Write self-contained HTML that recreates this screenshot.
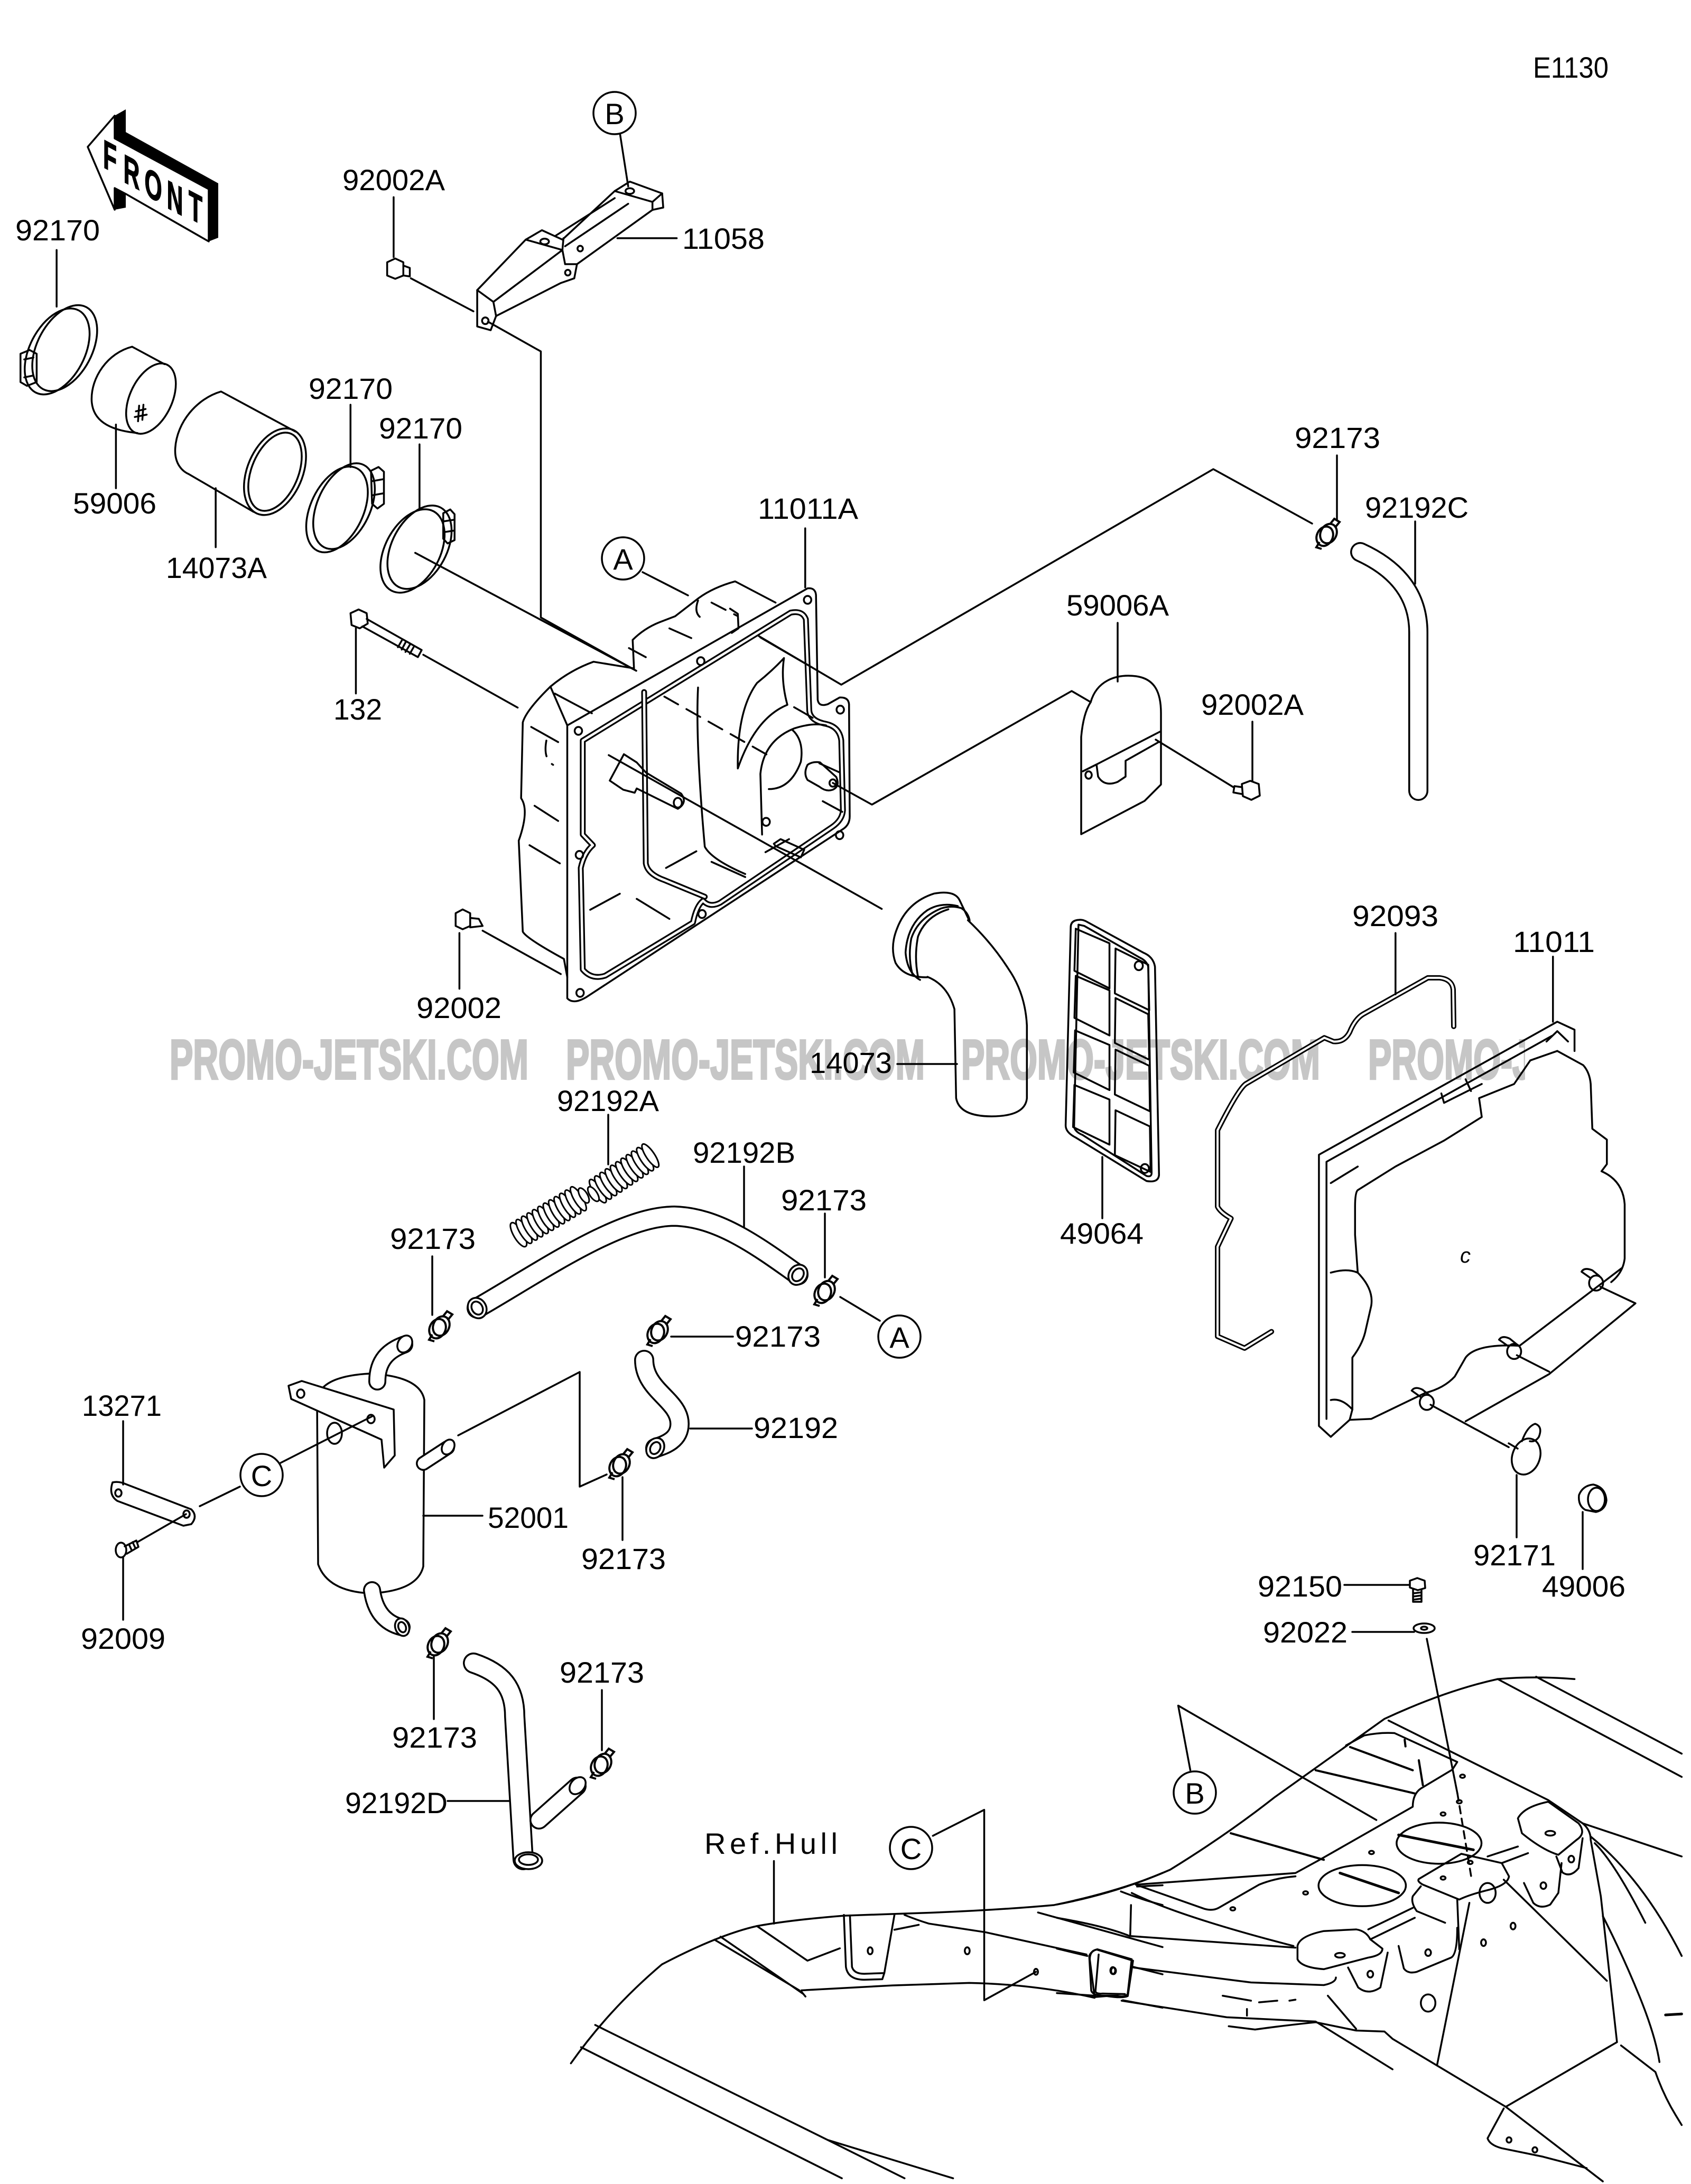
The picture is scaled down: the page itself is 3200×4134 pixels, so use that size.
<!DOCTYPE html>
<html><head><meta charset="utf-8">
<style>
html,body{margin:0;padding:0;background:#fff;}
svg{display:block;}
svg *{vector-effect:non-scaling-stroke;}
.L{fill:none;stroke:#000;stroke-width:3.5;stroke-linejoin:round;stroke-linecap:round;}
.T{font-family:"Liberation Sans",sans-serif;font-size:56px;fill:#000;}
</style></head><body>
<svg width="3200" height="4134" viewBox="0 0 3200 4134" xmlns="http://www.w3.org/2000/svg">
<defs>
<g id="clamp" fill="none" stroke="#000" stroke-width="4">
<ellipse cx="-4" cy="3" rx="15" ry="19" transform="rotate(25 -4 3)" fill="#fff"/>
<ellipse cx="3" cy="-2" rx="15" ry="19" transform="rotate(25 3 -2)"/>
<path d="M6,-20 L14,-30 L24,-24 L15,-13"/>
<path d="M-14,14 L-20,24 L-10,27"/>
</g>
<clipPath id="wc"><rect x="0" y="1900" width="2886" height="200"/></clipPath>
</defs>
<rect width="3200" height="4134" fill="#fff"/>

<!-- watermark -->
<g clip-path="url(#wc)" fill="#c6c6c6" stroke="#c6c6c6" stroke-width="4" font-family="Liberation Sans, sans-serif" font-weight="bold" font-size="106">
<text x="321" y="2042" textLength="679" lengthAdjust="spacingAndGlyphs">PROMO-JETSKI.COM</text>
<text x="1071" y="2042" textLength="679" lengthAdjust="spacingAndGlyphs">PROMO-JETSKI.COM</text>
<text x="1819" y="2042" textLength="679" lengthAdjust="spacingAndGlyphs">PROMO-JETSKI.COM</text>
<text x="2589" y="2042" textLength="679" lengthAdjust="spacingAndGlyphs">PROMO-JETSKI.COM</text>
</g>

<!-- FRONT arrow (orig coords) -->
<polygon points="217,219 238,207 238,250 413,347 413,450 395,457 395,358 217,262" fill="#000"/>
<polygon points="217,355 238,367 238,393 217,397" fill="#000"/>
<polygon points="166,278 217,219 217,262 395,358 395,457 238,367 217,356 217,397" fill="#fff" stroke="#000" stroke-width="3.5" stroke-linejoin="round"/>
<g font-family="Liberation Sans, sans-serif" font-weight="bold" font-size="76" text-anchor="middle" fill="#000" stroke="#000" stroke-width="1.5">
<text transform="translate(208,296) skewY(28) scale(0.56,1)" y="27">F</text>
<text transform="translate(249,325) skewY(28) scale(0.56,1)" y="27">R</text>
<text transform="translate(290,350) skewY(28) scale(0.56,1)" y="27">O</text>
<text transform="translate(331,374) skewY(28) scale(0.56,1)" y="27">N</text>
<text transform="translate(370,392) skewY(28) scale(0.56,1)" y="27">T</text>
</g>

<!-- ===== Z1 region ===== -->
<g transform="scale(1.0204,0.8929)" class="L">
<ellipse cx="120" cy="738" rx="52" ry="96" transform="rotate(22 120 738)"/>
<ellipse cx="106" cy="745" rx="52" ry="96" transform="rotate(22 106 745)"/>
<path d="M38,750 L55,742 L68,750 L68,810 L50,818 L38,810 Z M45,762 L62,758 M45,800 L62,796"/>
<path d="M245,735 C200,748 168,800 170,850 C172,890 200,912 255,918 M245,735 L305,772"/>
<ellipse cx="280" cy="845" rx="40" ry="78" transform="rotate(20 280 845)"/>
<path d="M252,872 L270,867 M250,884 L272,879 M258,860 L256,893 M266,858 L264,890"/>
<path d="M410,830 C365,845 328,895 325,950 C323,985 340,1000 350,1005 L470,1085 M410,830 L548,915"/>
<ellipse cx="510" cy="1000" rx="52" ry="95" transform="rotate(18 510 1000)"/>
<ellipse cx="510" cy="1000" rx="44" ry="86" transform="rotate(18 510 1000)"/>
<ellipse cx="625" cy="1080" rx="50" ry="95" transform="rotate(20 625 1080)"/>
<ellipse cx="638" cy="1073" rx="50" ry="95" transform="rotate(20 638 1073)"/>
<path d="M688,998 L702,990 L712,1000 L712,1068 L700,1078 L690,1068 Z M690,1020 L710,1016 M690,1050 L710,1046"/>
<ellipse cx="765" cy="1168" rx="52" ry="93" transform="rotate(22 765 1168)"/>
<ellipse cx="778" cy="1160" rx="52" ry="93" transform="rotate(22 778 1160)"/>
<path d="M822,1088 L835,1080 L843,1090 L843,1145 L830,1152 L822,1142 Z M824,1105 L841,1102 M824,1128 L841,1125"/>
<path d="M650,1300 L665,1292 L680,1300 L682,1322 L667,1332 L652,1325 Z M680,1312 L782,1378 M672,1328 L775,1393 M782,1378 L775,1393"/>
<path d="M745,1358 L738,1372 M752,1362 L745,1377 M760,1367 L752,1382 M767,1372 L760,1386"/>
<path d="M718,556 L733,548 L748,556 L748,584 L733,591 L718,584 Z M748,563 L760,568 L760,586 L748,584"/>
<path d="M885,615 L975,508 L1005,488 L1043,508 L1140,405 L1168,385 L1228,410 L1230,440 L1210,445 L1070,560 L1065,590 L1040,600 L920,670 L910,700 L885,692 Z"/>
<path d="M975,508 L1043,530 L1045,505 M1140,405 L1210,428 L1228,410 M1210,428 L1210,445 M1043,530 L1048,560 L1070,560 M885,615 L915,640 L920,670 M915,640 L1043,530 M1030,500 L1140,420 M1048,522 L1165,432"/>
<ellipse cx="900" cy="680" rx="6" ry="7"/><ellipse cx="1010" cy="512" rx="8" ry="6"/><ellipse cx="1168" cy="405" rx="8" ry="6"/><ellipse cx="1053" cy="578" rx="5" ry="6"/><ellipse cx="1076" cy="527" rx="5" ry="6"/>
<path d="M105,530 L105,650 M215,900 L215,1035 M400,1035 L400,1160 M650,858 L650,990 M778,942 L778,1080 M660,1332 L660,1470 M730,418 L730,545 M1150,285 L1165,395 M1145,505 L1255,505"/>
<path d="M770,1172 L1180,1422 M785,1388 L960,1500 M762,590 L878,660 M905,682 L1003,745 L1003,1309 L1180,1422"/>
</g>

<!-- ===== Air box (Z7) ===== -->
<g transform="translate(900,1000) scale(0.6378,0.574)" class="L">
<path d="M272,650 L985,198 Q1008,195 1010,220 L1015,565 Q1018,590 1045,580 L1080,558 Q1106,556 1108,580 L1110,950 Q1110,978 1090,992 L330,1545 Q290,1572 272,1550 Z"/>
<path d="M318,700 L935,278 Q970,270 980,300 L990,600 Q992,635 1040,645 Q1080,655 1085,700 L1090,930 Q1088,962 1058,985 L725,1235 Q695,1252 675,1228 Q655,1245 645,1300 L385,1475 Q345,1490 318,1455 L312,1120 Q322,1070 348,1045 L318,1010 Z" stroke-width="11"/>
<path d="M318,700 L935,278 Q970,270 980,300 L990,600 Q992,635 1040,645 Q1080,655 1085,700 L1090,930 Q1088,962 1058,985 L725,1235 Q695,1252 675,1228 Q655,1245 645,1300 L385,1475 Q345,1490 318,1455 L312,1120 Q322,1070 348,1045 L318,1010 Z" stroke="#fff" stroke-width="4.5"/>
<path d="M500,540 L505,1105 Q510,1140 560,1160 L680,1215" stroke-width="11"/>
<path d="M500,540 L505,1105 Q510,1140 560,1160 L680,1215" stroke="#fff" stroke-width="4.5"/>
<path d="M272,650 L222,522 Q280,468 350,440 L470,462 L466,368 Q500,330 545,310 L592,290 L662,230 Q705,195 770,175 L890,245"/>
<path d="M222,522 Q150,600 140,640 L135,890 Q160,930 128,1030 L140,1330 Q150,1352 262,1420 L272,1480"/>
<path d="M235,545 L345,610 M165,655 L245,705 M175,915 L245,965 M160,1045 L250,1105 M455,395 L505,425 M575,330 L640,362 M340,1258 L428,1205 M478,1222 L575,1288 M700,1100 L800,1150 M565,1120 L655,1065 M860,1068 L930,1025 M1030,900 L1088,935 M1020,775 L1080,805 M845,360 L1000,460 M945,590 L1000,625"/>
<path d="M850,1010 L845,810 Q855,700 945,660 Q1000,640 1040,650"/>
<path d="M940,665 Q975,700 965,770 Q935,860 870,860"/>
<path d="M985,780 Q1000,768 1022,772 L1070,820 Q1082,850 1060,862 Q1040,870 1020,852 L985,830 Q972,808 985,780 Z"/>
<path d="M915,428 Q880,470 835,510 Q775,600 778,792 Q830,625 925,582 Q905,500 915,428"/>
<path d="M660,525 Q652,700 680,1050 Q700,1092 800,1140"/>
<path d="M398,832 L440,745 L478,772 L505,805 L610,875 Q630,905 600,925 L478,858 L472,872 L438,862 Z"/>
<ellipse cx="600" cy="905" rx="12" ry="16"/>
<path d="M885,1040 L905,1025 L975,1060 L965,1085 L890,1048 Z"/>
<path d="M660,238 Q648,275 665,292 M755,265 L778,282 L780,330 L760,345"/>
<path d="M560,555 L870,750 M700,245 L775,288 M210,700 Q200,760 230,780" stroke-dasharray="30 18"/>
<ellipse cx="985" cy="236" rx="11" ry="13"/><ellipse cx="1082" cy="598" rx="11" ry="13"/><ellipse cx="1080" cy="1012" rx="11" ry="13"/><ellipse cx="668" cy="438" rx="11" ry="13"/><ellipse cx="305" cy="668" rx="11" ry="13"/><ellipse cx="308" cy="1077" rx="11" ry="13"/><ellipse cx="672" cy="1272" rx="11" ry="13"/><ellipse cx="310" cy="1532" rx="11" ry="13"/><ellipse cx="862" cy="968" rx="11" ry="13"/><ellipse cx="1060" cy="840" rx="10" ry="12"/>
<path d="M395,748 L1205,1255 M978,0 L978,195"/>
</g>

<!-- ===== Z3 region: 92002 bolt ===== -->
<g transform="translate(0,1400) scale(1.0204,0.8929)" class="L">
<path d="M845,368 L858,360 L872,368 L872,395 L858,402 L845,395 Z M872,378 L888,380 L895,395 L872,398"/>
<path d="M852,410 L852,528 M895,405 L1040,497"/>
</g>

<!-- ===== Z4: gasket + cover ===== -->
<g transform="translate(1600,1400) scale(1.0204,0.8929)" class="L">
<path d="M1128,608 L1127,530 Q1125,508 1102,505 L1080,505 L960,582 Q945,592 935,620 Q925,642 905,640 L888,632 L742,730 Q728,742 690,828 L690,990 Q695,1002 715,1015 L690,1075 L690,1265 L740,1290 L790,1255" stroke-width="10"/>
<path d="M1128,608 L1127,530 Q1125,508 1102,505 L1080,505 L960,582 Q945,592 935,620 Q925,642 905,640 L888,632 L742,730 Q728,742 690,828 L690,990 Q695,1002 715,1015 L690,1075 L690,1265 L740,1290 L790,1255" stroke="#fff" stroke-width="4"/>
<path d="M1020,410 L1020,540"/>
<path d="M900,1478 L878,1455 L878,880 L1320,598 L1352,615 L1352,660"/>
<path d="M892,1440 L892,895 L1310,628"/>
<path d="M1320,660 L1368,690 Q1380,705 1382,730 L1385,825 L1412,848 L1412,900 L1402,915 Q1442,935 1445,985 L1445,1100 Q1442,1130 1420,1150"/>
<path d="M1440,1120 L1250,1285 Q1170,1280 1150,1310 L1130,1350 Q1110,1375 1075,1385 L975,1440 L935,1442 L900,1478"/>
<path d="M935,1442 L940,1420 L940,1310 Q960,1280 965,1250 L975,1200 Q980,1165 950,1130 L945,1050 L945,990 Q945,960 950,955 L1020,905 L1110,850 L1180,800 L1175,760 L1240,730 L1270,680 L1320,660"/>
<path d="M900,1130 Q930,1120 950,1130 M900,1400 Q920,1395 940,1420 M900,940 L950,905 M1105,750 L1110,770 L1180,730 M1150,720 L1160,745 M1300,640 L1320,618 L1340,640"/>
<ellipse cx="1392" cy="1152" rx="13" ry="16"/><path d="M1380,1140 L1365,1128 Q1370,1118 1385,1125 L1398,1137"/>
<ellipse cx="1240" cy="1297" rx="13" ry="16"/><path d="M1228,1285 L1212,1272 Q1218,1262 1232,1270 L1245,1282"/>
<ellipse cx="1078" cy="1405" rx="13" ry="16"/><path d="M1066,1393 L1050,1380 Q1056,1370 1070,1378 L1083,1390"/>
<path d="M1400,1160 L1465,1195 L1305,1345 L1150,1445 M1245,1305 L1305,1340 M1085,1410 L1230,1500"/>
<path d="M1312,460 L1312,598"/>
</g>
<text x="2763" y="2390" font-family="Liberation Sans, sans-serif" font-size="40" font-style="italic">c</text>

<!-- ===== Z8: elbow + filter ===== -->
<g transform="translate(1500,1650) scale(0.6378,0.3827)" class="L">
<path d="M400,522 Q330,525 305,450 Q288,370 310,280 Q340,150 420,108 Q480,90 495,140 L525,245"/>
<path d="M378,535 Q340,500 335,400 Q340,260 400,190 Q440,150 490,170"/>
<path d="M355,505 Q342,420 352,330 Q372,230 440,182 Q470,165 500,180 Q520,200 525,240"/>
<path d="M372,520 Q360,420 372,320 Q395,220 462,186"/>
<path d="M400,520 Q460,560 480,680 L485,1120 Q495,1210 590,1210 Q690,1210 695,1120 L695,760 Q690,600 640,480 Q590,350 520,240"/>
<path d="M850,238 Q825,240 825,275 L810,1255 Q810,1290 840,1315 L1050,1530 Q1085,1540 1087,1500 L1075,470 Q1070,420 1040,400 L870,245 Q860,236 850,238 Z"/>
<path d="M848,262 L835,1262 Q838,1287 860,1302 L1050,1505 Q1065,1512 1065,1490 L1055,470 Q1050,440 1030,425 L865,268 Z"/>
<polygon points="840,282 940,354 940,577 836,490"/>
<polygon points="840,515 940,587 940,810 836,723"/>
<polygon points="838,785 940,857 940,1080 834,993"/>
<polygon points="836,1055 940,1127 940,1350 832,1263"/>
<polygon points="958,380 1055,460 1058,685 956,602"/>
<polygon points="958,625 1055,705 1058,930 956,847"/>
<polygon points="958,880 1058,960 1060,1185 956,1102"/>
<polygon points="958,1180 1060,1260 1062,1485 956,1402"/>
<ellipse cx="1027" cy="465" rx="12" ry="22"/><ellipse cx="1045" cy="1468" rx="12" ry="22"/>
</g>

<!-- ===== orig-coordinate parts ===== -->
<g class="L">
<path d="M2483,991 L2296,888 L1592,1296 L1436,1204"/>
<path d="M2064,1329 L2028,1308 L1650,1523 L1576,1482"/>
<path d="M1216,1083 L1302,1127"/>
<path d="M1698,2014 L1811,2014"/>
<path d="M2086,2190 L2086,2306"/>
<path d="M2530,862 L2530,985 M2678,987 L2678,1105 M2115,1179 L2115,1290 M2370,1366 L2370,1478"/>
<path d="M2064,1329 C2075,1290 2110,1275 2150,1280 C2185,1285 2197,1310 2197,1350 L2197,1485 L2166,1516 L2046,1579 L2046,1395 Q2050,1350 2064,1329 Z"/>
<path d="M2049,1460 L2075,1447 L2078,1470 Q2090,1490 2115,1480 L2130,1470 L2130,1440 L2192,1405 M2075,1447 L2131,1418 L2195,1385"/>
<ellipse cx="2060" cy="1467" rx="6" ry="7"/>
<path d="M2350,1484 L2366,1478 L2382,1484 L2384,1506 L2368,1514 L2352,1507 Z M2350,1490 L2336,1488 L2334,1500 L2350,1503 M2187,1400 L2334,1490"/>

<path d="M818,2378 L818,2489 M1270,2530 L1387,2530 M1561,2297 L1561,2418 M1151,2110 L1151,2204 M1408,2208 L1408,2322 M1306,2704 L1423,2704"/>
<path d="M1590,2455 L1665,2500"/>
<path d="M600,2650 Q605,2605 700,2600 Q795,2605 803,2650 M600,2650 L602,2961 Q620,3012 700,3016 Q790,3012 801,2965 L803,2650"/>
<path d="M546,2623 L571,2614 L745,2668 L747,2755 L727,2778 L722,2725 L551,2648 Z" fill="#fff"/>
<ellipse cx="569" cy="2638" rx="7" ry="8"/><ellipse cx="702" cy="2686" rx="7" ry="8"/>
<ellipse cx="633" cy="2713" rx="14" ry="20"/>
<path d="M531,2769 L704,2681 M454,2814 L378,2851"/>
<path d="M213,2806 Q225,2803 240,2810 L362,2857 Q375,2870 362,2885 L347,2888 L222,2841 Q205,2830 213,2806 Z"/>
<ellipse cx="224" cy="2826" rx="6" ry="7"/><ellipse cx="353" cy="2866" rx="6" ry="7"/>
<path d="M233,2690 L233,2810 M233,2947 L233,3066 M260,2919 L352,2866"/>
<ellipse cx="229" cy="2934" rx="10" ry="14"/>
<path d="M236,2927 L258,2916 L262,2928 L240,2941 M244,2923 L249,2934 M251,2919 L256,2930"/>
<path d="M801,2869 L913,2869 M867,2717 L1097,2597 L1097,2814 L1148,2791 M1178,2796 L1178,2915"/>
<path d="M847,3409 L964,3409 M821,3135 L821,3254 M1139,3199 L1139,3313"/>
<ellipse cx="2888" cy="2757" rx="26" ry="35" transform="rotate(20 2888 2757)"/>
<path d="M2880,2728 Q2890,2700 2905,2695 Q2920,2700 2912,2720 Q2905,2730 2895,2728 M2855,2732 L2872,2742"/>
<path d="M2870,2792 L2870,2910"/>
<path d="M2988,2830 Q2995,2812 3015,2810 Q3038,2815 3040,2840 Q3038,2858 3020,2862 L3000,2858 Q2986,2850 2988,2830 Z"/>
<ellipse cx="3021" cy="2838" rx="16" ry="22"/>
<path d="M2995,2862 L2995,2970"/>
<path d="M2668,2992 L2682,2987 L2696,2992 L2697,3006 L2683,3010 L2668,3005 Z M2674,3008 L2674,3032 L2690,3032 L2690,3008 M2674,3016 L2690,3014 M2674,3022 L2690,3020 M2674,3028 L2690,3026"/>
<path d="M2544,3000 L2666,3000 M2559,3089 L2676,3089"/>
<ellipse cx="2695" cy="3082" rx="20" ry="9"/><ellipse cx="2695" cy="3082" rx="6" ry="3"/>
<path d="M2700,3102 L2758,3395"/>
<path d="M2758,3395 L2784,3552" stroke-dasharray="14 10"/>
</g>

<!-- tubes -->
<g fill="none" stroke-linecap="round">
<path d="M2574,1045 C2631,1071 2684,1116 2684,1197 L2684,1497" stroke="#000" stroke-width="38"/>
<path d="M2574,1045 C2631,1071 2684,1116 2684,1197 L2684,1497" stroke="#fff" stroke-width="31"/>
<path d="M903,2476 C1020,2409 1173,2302 1276,2302 C1357,2304 1429,2355 1510,2413" stroke="#000" stroke-width="40"/>
<path d="M903,2476 C1020,2409 1173,2302 1276,2302 C1357,2304 1429,2355 1510,2413" stroke="#fff" stroke-width="33"/>
<path d="M1219,2574 C1219,2632 1286,2650 1286,2695 C1286,2726 1258,2735 1240,2741" stroke="#000" stroke-width="38"/>
<path d="M1219,2574 C1219,2632 1286,2650 1286,2695 C1286,2726 1258,2735 1240,2741" stroke="#fff" stroke-width="31"/>
<path d="M714,2615 C714,2575 735,2556 765,2545" stroke="#000" stroke-width="34"/>
<path d="M714,2615 C714,2575 735,2556 765,2545" stroke="#fff" stroke-width="27"/>
<path d="M704,3010 Q712,3068 760,3080" stroke="#000" stroke-width="34"/>
<path d="M704,3010 Q712,3068 760,3080" stroke="#fff" stroke-width="27"/>
<path d="M801,2770 L847,2740" stroke="#000" stroke-width="28"/>
<path d="M801,2770 L847,2740" stroke="#fff" stroke-width="21"/>
<path d="M896,3148 C949,3166 974,3194 974,3249 L990,3520" stroke="#000" stroke-width="40"/>
<path d="M896,3148 C949,3166 974,3194 974,3249 L990,3520" stroke="#fff" stroke-width="33"/>
<path d="M1020,3445 L1092,3381" stroke="#000" stroke-width="36"/>
<path d="M1020,3445 L1092,3381" stroke="#fff" stroke-width="29"/>
</g>
<g fill="#fff" stroke="#000" stroke-width="3.5">
<ellipse cx="903" cy="2476" rx="17" ry="20" transform="rotate(-30 903 2476)"/><ellipse cx="903" cy="2476" rx="10" ry="13" transform="rotate(-30 903 2476)"/>
<ellipse cx="1510" cy="2413" rx="17" ry="20" transform="rotate(35 1510 2413)"/><ellipse cx="1510" cy="2413" rx="10" ry="13" transform="rotate(35 1510 2413)"/>
<ellipse cx="1240" cy="2741" rx="16" ry="20" transform="rotate(30 1240 2741)"/><ellipse cx="1240" cy="2741" rx="9" ry="12" transform="rotate(30 1240 2741)"/>
<ellipse cx="766" cy="2544" rx="13" ry="17" transform="rotate(30 766 2544)"/>
<ellipse cx="761" cy="3080" rx="13" ry="17" transform="rotate(-20 761 3080)"/><ellipse cx="761" cy="3080" rx="7" ry="10" transform="rotate(-20 761 3080)"/>
<ellipse cx="848" cy="2739" rx="11" ry="15" transform="rotate(30 848 2739)"/>
<ellipse cx="1000" cy="3522" rx="26" ry="16"/><ellipse cx="1000" cy="3520" rx="18" ry="10"/>
<ellipse cx="1093" cy="3380" rx="13" ry="18" transform="rotate(40 1093 3380)"/>
</g>
<g transform="translate(1181,2221) rotate(-34)" fill="#fff" stroke="#000" stroke-width="3">
<ellipse cx="-60" rx="8" ry="26"/><ellipse cx="-48" rx="8" ry="26"/><ellipse cx="-36" rx="8" ry="26"/><ellipse cx="-24" rx="8" ry="26"/><ellipse cx="-12" rx="8" ry="26"/><ellipse cx="0" rx="8" ry="26"/><ellipse cx="12" rx="8" ry="26"/><ellipse cx="24" rx="8" ry="26"/><ellipse cx="36" rx="8" ry="26"/><ellipse cx="48" rx="8" ry="26"/><ellipse cx="60" rx="8" ry="26"/>
<ellipse cx="-70" rx="7" ry="16"/>
</g>
<g transform="translate(1043,2300) rotate(-31)" fill="#fff" stroke="#000" stroke-width="3">
<ellipse cx="-72" rx="9" ry="26"/><ellipse cx="-60" rx="8" ry="26"/><ellipse cx="-48" rx="8" ry="26"/><ellipse cx="-36" rx="8" ry="26"/><ellipse cx="-24" rx="8" ry="26"/><ellipse cx="-12" rx="8" ry="26"/><ellipse cx="0" rx="8" ry="26"/><ellipse cx="12" rx="8" ry="26"/><ellipse cx="24" rx="8" ry="26"/><ellipse cx="36" rx="8" ry="26"/><ellipse cx="48" rx="8" ry="26"/><ellipse cx="60" rx="8" ry="26"/>
<ellipse cx="72" rx="7" ry="16"/>
</g>
<use href="#clamp" x="2511" y="1012"/>
<use href="#clamp" x="832" y="2512"/>
<use href="#clamp" x="1245" y="2521"/>
<use href="#clamp" x="1561" y="2445"/>
<use href="#clamp" x="1173" y="2773"/>
<use href="#clamp" x="829" y="3112"/>
<use href="#clamp" x="1138" y="3340"/>

<!-- ===== Hull Z10 ===== -->
<g transform="translate(1000,3400) scale(0.7653,0.4681)" class="L">
<path d="M1568,310 Q1460,385 1300,440 Q1130,465 920,475 L780,483 Q650,500 565,525 Q470,560 330,680 Q200,860 105,1080"/>
<path d="M460,580 L670,785 M475,568 L680,800 M675,790 L685,810"/>
<path d="M565,525 L690,665 L770,615"/>
<path d="M780,480 L785,690 Q790,742 830,742 L875,740 L880,715 L905,480 M795,482 L800,690 Q805,718 830,718 L880,715"/>
<ellipse cx="845" cy="625" rx="6" ry="14"/>
<path d="M905,540 L965,520 M930,480 Q960,500 990,515 L1130,550 L1380,640"/>
<ellipse cx="1085" cy="625" rx="6" ry="14"/>
<path d="M675,785 L900,765 L1090,755 Q1250,760 1400,815"/>
<path d="M1400,812 L1388,660 Q1388,625 1405,620 L1495,665 L1482,808 Q1470,818 1430,808 Z M1410,640 L1402,790 Q1405,800 1420,798 L1475,800"/>
<ellipse cx="1445" cy="705" rx="6" ry="14"/>
<path d="M1495,690 L1568,720 M1470,825 L1568,855 M1260,470 L1568,610 M1490,440 L1488,565 M1505,365 L1568,360 M1465,385 Q1520,420 1568,440"/>
<path d="M165,925 L740,1390 L930,1545 M740,1390 L1050,1545 M130,1015 L775,1545"/>
<path d="M607,262 L607,515"/>
<path d="M1000,160 L1127,55 L1127,825 L1255,710"/>
<ellipse cx="1255" cy="710" rx="5" ry="12"/>
</g>

<!-- ===== Hull Z9 ===== -->
<g transform="translate(2000,3150) scale(0.7653,0.6276)" class="L">
<path d="M0,725 Q150,690 280,620 Q420,515 540,400 Q700,260 810,165 Q960,80 1090,45 Q1180,35 1280,45"/>
<path d="M1090,45 L1545,340 M1185,38 L1545,270"/>
<path d="M330,320 L300,125 L790,470"/>
<path d="M820,170 L1215,410 L1300,480 L1545,580"/>
<path d="M715,245 L760,215 Q800,205 835,208 L990,295 L978,318 L900,375 Q880,392 880,430 L650,590 L590,630 L195,665 L365,738 Q385,745 400,735 L500,665 Q540,645 590,640"/>
<path d="M640,320 L885,390 M430,510 L660,590 M725,250 L880,320 M895,290 L905,365 M860,228 L862,248" stroke-width="4"/>
<ellipse cx="945" cy="540" rx="105" ry="62"/>
<ellipse cx="755" cy="668" rx="108" ry="62"/>
<path d="M845,515 L1030,560 M700,630 L845,690" stroke-width="5"/>
<ellipse cx="1003" cy="338" rx="6" ry="5"/><ellipse cx="995" cy="415" rx="6" ry="5"/><ellipse cx="955" cy="452" rx="6" ry="5"/><ellipse cx="778" cy="568" rx="6" ry="5"/><ellipse cx="615" cy="690" rx="6" ry="5"/><ellipse cx="435" cy="738" rx="6" ry="5"/><ellipse cx="1022" cy="598" rx="6" ry="5"/><ellipse cx="955" cy="645" rx="6" ry="5"/><ellipse cx="1128" cy="790" rx="6" ry="10"/><ellipse cx="1055" cy="840" rx="6" ry="10"/><ellipse cx="918" cy="870" rx="7" ry="10"/><ellipse cx="775" cy="935" rx="7" ry="10"/><ellipse cx="700" cy="878" rx="12" ry="7"/><ellipse cx="1220" cy="510" rx="12" ry="7"/><ellipse cx="1272" cy="588" rx="7" ry="10"/><ellipse cx="1203" cy="668" rx="7" ry="10"/><ellipse cx="140" cy="925" rx="6" ry="10"/><ellipse cx="918" cy="1022" rx="18" ry="26"/>
<path d="M895,648 L1000,572 L1100,600 L1118,640 Q1115,665 1070,680 Q1020,695 995,710 L905,665 Q890,655 895,648 Z M900,670 L880,700 Q875,720 890,745 L960,780 M990,710 L995,860 M1020,720 L940,1210"/>
<ellipse cx="1065" cy="690" rx="20" ry="30"/>
<path d="M595,850 Q600,820 660,805 L740,800 Q765,805 775,830 L805,858 Q805,878 770,885 L660,920 Q605,915 595,890 Z"/>
<path d="M720,915 L745,975 Q770,1000 800,975 L818,870 M845,850 L858,918 Q868,935 890,928 L975,885 Q990,875 990,795 M770,800 L880,735 M775,830 L885,765"/>
<path d="M1140,465 Q1155,430 1215,415 L1290,480 Q1310,510 1285,530 L1240,575 Q1200,560 1150,510 Z M1235,580 L1250,628 Q1270,645 1290,615 L1300,525 M1155,660 L1178,720 Q1195,740 1220,725 L1240,690 L1248,600 M1065,580 L1140,550 M1100,600 L1165,570"/>
<path d="M1300,480 Q1320,500 1320,530 L1345,700 L1385,1140 M1385,1140 L1110,1335 M1395,1150 L1480,1230 Q1500,1300 1530,1360 L1545,1390 M1350,760 Q1400,880 1440,1000 Q1480,1120 1490,1200 M1330,540 Q1380,600 1455,780 M1320,520 Q1450,650 1545,880 M1105,650 L1360,955"/>
<path d="M1505,1058 L1545,1055" stroke-width="5"/>
<path d="M0,765 Q120,790 180,820 L590,855 M185,690 Q300,760 585,850 M0,858 L75,880 M190,915 L480,960 L660,968 Q690,960 690,945 M0,992 L95,1000 M160,1015 L420,1065 L640,1078 L830,1222 M425,1092 L490,1102 Q560,1090 640,1080 L740,1105 L810,1108 L830,1130 L1110,1335 L1350,1560 M670,1000 L740,1100"/>
<path d="M80,880 Q85,865 100,860 L185,890 L175,995 Q170,1005 150,1000 L115,1000 Q90,1000 85,985 Z"/>
<path d="M410,1000 L480,1015 M500,1020 L545,1015 M575,1015 L590,1012 M470,1040 L470,1060"/>
<path d="M1105,1340 L1065,1430 Q1070,1450 1100,1460 L1200,1485 L1310,1520"/>
<ellipse cx="1118" cy="1435" rx="6" ry="8"/><ellipse cx="1182" cy="1465" rx="6" ry="8"/>
</g>

<!-- circled letters -->
<g class="L">
<circle cx="1163" cy="214" r="40"/>
<circle cx="1179" cy="1057" r="40"/>
<circle cx="1702" cy="2530" r="40"/>
<circle cx="495" cy="2792" r="40"/>
<circle cx="2261" cy="3393" r="40"/>
<circle cx="1724" cy="3498" r="40"/>
</g>
<g class="T" text-anchor="middle" font-size="58">
<text x="1163" y="235">B</text>
<text x="1179" y="1078">A</text>
<text x="1702" y="2551">A</text>
<text x="495" y="2813">C</text>
<text x="2261" y="3414">B</text>
<text x="1724" y="3519">C</text>
</g>

<!-- labels -->
<g class="T">
<text x="2901" y="147" textLength="143" lengthAdjust="spacingAndGlyphs">E1130</text>
<text x="29" y="455" textLength="160" lengthAdjust="spacingAndGlyphs">92170</text>
<text x="648" y="360" textLength="194" lengthAdjust="spacingAndGlyphs">92002A</text>
<text x="1291" y="471" textLength="156" lengthAdjust="spacingAndGlyphs">11058</text>
<text x="138" y="972" textLength="158" lengthAdjust="spacingAndGlyphs">59006</text>
<text x="314" y="1094" textLength="191" lengthAdjust="spacingAndGlyphs">14073A</text>
<text x="584" y="755" textLength="159" lengthAdjust="spacingAndGlyphs">92170</text>
<text x="717" y="830" textLength="158" lengthAdjust="spacingAndGlyphs">92170</text>
<text x="1434" y="982" textLength="190" lengthAdjust="spacingAndGlyphs">11011A</text>
<text x="631" y="1362" textLength="92" lengthAdjust="spacingAndGlyphs">132</text>
<text x="2450" y="848" textLength="162" lengthAdjust="spacingAndGlyphs">92173</text>
<text x="2583" y="980" textLength="196" lengthAdjust="spacingAndGlyphs">92192C</text>
<text x="2018" y="1165" textLength="194" lengthAdjust="spacingAndGlyphs">59006A</text>
<text x="2273" y="1353" textLength="194" lengthAdjust="spacingAndGlyphs">92002A</text>
<text x="788" y="1927" textLength="161" lengthAdjust="spacingAndGlyphs">92002</text>
<text x="1532" y="2031" textLength="156" lengthAdjust="spacingAndGlyphs">14073</text>
<text x="1054" y="2103" textLength="193" lengthAdjust="spacingAndGlyphs">92192A</text>
<text x="1311" y="2201" textLength="194" lengthAdjust="spacingAndGlyphs">92192B</text>
<text x="1478" y="2291" textLength="162" lengthAdjust="spacingAndGlyphs">92173</text>
<text x="738" y="2364" textLength="162" lengthAdjust="spacingAndGlyphs">92173</text>
<text x="1391" y="2549" textLength="162" lengthAdjust="spacingAndGlyphs">92173</text>
<text x="1426" y="2722" textLength="160" lengthAdjust="spacingAndGlyphs">92192</text>
<text x="155" y="2680" textLength="151" lengthAdjust="spacingAndGlyphs">13271</text>
<text x="923" y="2892" textLength="153" lengthAdjust="spacingAndGlyphs">52001</text>
<text x="1100" y="2970" textLength="160" lengthAdjust="spacingAndGlyphs">92173</text>
<text x="153" y="3121" textLength="160" lengthAdjust="spacingAndGlyphs">92009</text>
<text x="1059" y="3185" textLength="160" lengthAdjust="spacingAndGlyphs">92173</text>
<text x="742" y="3308" textLength="161" lengthAdjust="spacingAndGlyphs">92173</text>
<text x="653" y="3432" textLength="194" lengthAdjust="spacingAndGlyphs">92192D</text>
<text x="1333" y="3509" textLength="252" lengthAdjust="spacing">Ref.Hull</text>
<text x="2788" y="2963" textLength="156" lengthAdjust="spacingAndGlyphs">92171</text>
<text x="2918" y="3022" textLength="158" lengthAdjust="spacingAndGlyphs">49006</text>
<text x="2380" y="3022" textLength="160" lengthAdjust="spacingAndGlyphs">92150</text>
<text x="2390" y="3109" textLength="160" lengthAdjust="spacingAndGlyphs">92022</text>
<text x="2559" y="1753" textLength="163" lengthAdjust="spacingAndGlyphs">92093</text>
<text x="2863" y="1802" textLength="155" lengthAdjust="spacingAndGlyphs">11011</text>
<text x="2006" y="2354" textLength="158" lengthAdjust="spacingAndGlyphs">49064</text>
</g>
</svg>
</body></html>
